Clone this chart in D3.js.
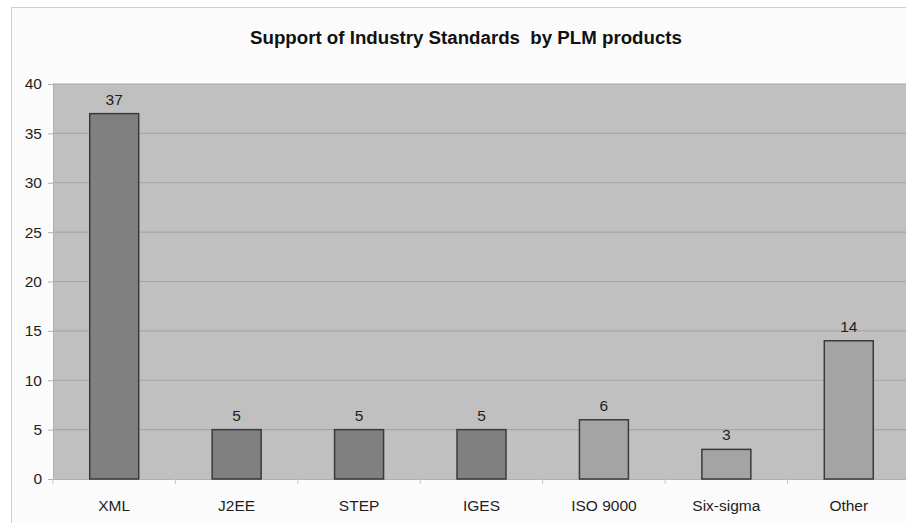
<!DOCTYPE html>
<html>
<head>
<meta charset="utf-8">
<script src="https://cdn.jsdelivr.net/npm/d3@7"></script>
<style>
  body { margin: 0; background: #fff; }
  svg { display: block; font-family: Arial, "Liberation Sans", sans-serif; }
</style>
</head>
<body>
<svg></svg>
<script>
const svg = d3.select("svg");
let width = 906;
let height = 523;

// data
const categories = ["XML", "J2EE", "STEP", "IGES", "ISO 9000", "Six-sigma", "Other"];
const values = [37, 5, 5, 5, 6, 3, 14];
const yTicks = [0, 5, 10, 15, 20, 25, 30, 35, 40];
const title = "Support of Industry Standards  by PLM products";

// first four bars darker, the rest lighter
const barFill = ["#808080", "#808080", "#808080", "#808080", "#a4a4a4", "#a4a4a4", "#a4a4a4"];

svg.attr("width", width).attr("height", height);

// outer chart frame
svg.append("rect")
    .attr("x", 11.5).attr("y", 7.5)
    .attr("width", width + 10).attr("height", height + 10)
    .attr("fill", "#fbfbfb")
    .attr("stroke", "#cfcfcf");

const plot = { left: 53, right: 910, top: 84, bottom: 479 };

const x = d3.scaleBand()
    .domain(categories)
    .range([plot.left, plot.right])
    .paddingInner(0.6)
    .paddingOuter(0.3);

const band = (plot.right - plot.left) / categories.length;

const y = d3.scaleLinear()
    .domain([0, 40])
    .range([plot.bottom, plot.top]);

// plot background
svg.append("rect")
    .attr("x", plot.left).attr("y", plot.top)
    .attr("width", plot.right - plot.left).attr("height", plot.bottom - plot.top)
    .attr("fill", "#c0c0c0");

// gridlines
svg.append("g")
    .selectAll("line")
    .data(yTicks.filter(d => d > 0))
    .join("line")
    .attr("x1", plot.left).attr("x2", plot.right)
    .attr("y1", d => y(d)).attr("y2", d => y(d))
    .attr("stroke", "#a6a6a6")
    .attr("stroke-width", 1.2);

// y axis
const yAxis = svg.append("g")
    .attr("transform", "translate(" + plot.left + ",0)")
    .call(d3.axisLeft(y).tickValues(yTicks).tickSize(5).tickPadding(6));
yAxis.select(".domain").attr("stroke", "#b0b0b0");
yAxis.selectAll(".tick line").attr("stroke", "#b0b0b0");
yAxis.selectAll("text")
    .attr("font-size", 15.5)
    .attr("fill", "#1e1e1e")
    .attr("font-family", "Arial, 'Liberation Sans', sans-serif");

// x axis baseline and category ticks
svg.append("line")
    .attr("x1", plot.left).attr("x2", plot.right)
    .attr("y1", plot.bottom + 0.5).attr("y2", plot.bottom + 0.5)
    .attr("stroke", "#b0b0b0");

svg.append("g")
    .selectAll("line")
    .data(d3.range(categories.length + 1))
    .join("line")
    .attr("x1", i => plot.left + i * band).attr("x2", i => plot.left + i * band)
    .attr("y1", plot.bottom).attr("y2", plot.bottom + 5)
    .attr("stroke", "#c8c8c8");

svg.append("g")
    .selectAll("text")
    .data(categories)
    .join("text")
    .attr("x", d => x(d) + x.bandwidth() / 2)
    .attr("y", 511)
    .attr("text-anchor", "middle")
    .attr("font-size", 15.5)
    .attr("fill", "#1e1e1e")
    .text(d => d);

// bars
svg.append("g")
    .selectAll("rect")
    .data(values)
    .join("rect")
    .attr("x", (d, i) => x(categories[i]))
    .attr("y", d => y(d))
    .attr("width", x.bandwidth())
    .attr("height", d => y(0) - y(d))
    .attr("fill", (d, i) => barFill[i])
    .attr("stroke", "#3a3a3a")
    .attr("stroke-width", 1.5);

// value labels
svg.append("g")
    .selectAll("text")
    .data(values)
    .join("text")
    .attr("x", (d, i) => x(categories[i]) + x.bandwidth() / 2)
    .attr("y", d => y(d) - 9)
    .attr("text-anchor", "middle")
    .attr("font-size", 15.5)
    .attr("fill", "#1e1e1e")
    .text(d => d);

// title
svg.append("text")
    .attr("x", 466)
    .attr("y", 44)
    .attr("text-anchor", "middle")
    .attr("font-size", 18.7)
    .attr("font-weight", "bold")
    .attr("fill", "#111")
    .style("white-space", "pre")
    .text(title);
</script>
</body>
</html>
